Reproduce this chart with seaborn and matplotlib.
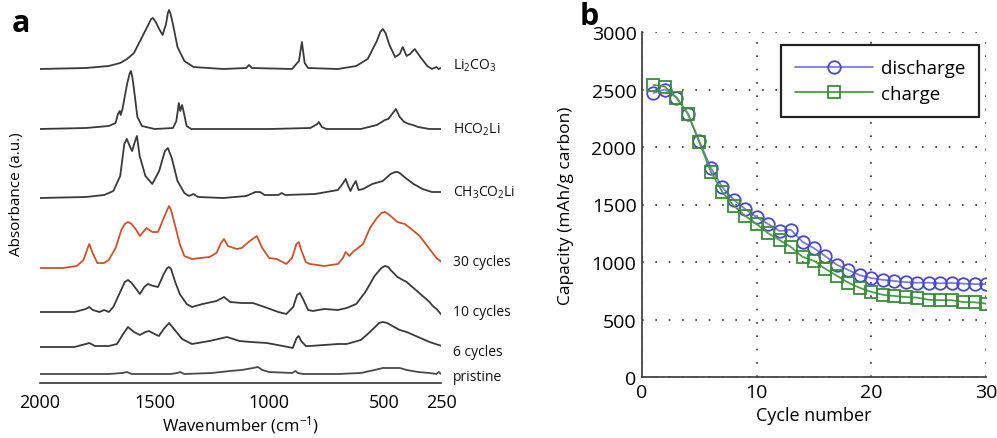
import numpy as np
import pandas as pd
import matplotlib
matplotlib.use('Agg')
import matplotlib.pyplot as plt
import matplotlib.transforms as mtransforms
import seaborn as sns

# ---- panel a: FTIR spectra (wavenumber, absorbance above each trace baseline, a.u.)
li2co3_w = [2000, 1800, 1700, 1650, 1620, 1590, 1570, 1550, 1530, 1515, 1507, 1495, 1480, 1465, 1450,
            1442, 1437, 1430, 1420, 1400, 1370, 1330, 1200, 1100, 1088, 1075, 900, 870, 857, 845,
            830, 700, 620, 570, 530, 515, 504, 492, 475, 450, 430, 417, 400, 385, 365, 340, 310,
            290, 270, 260, 250]
li2co3_a = [0, 1, 3, 6, 10, 16, 25, 34, 43, 50, 51, 47, 40, 34, 45,
            56, 59, 55, 45, 22, 8, 2, 0, 1, 4, 1, 0, 8, 27, 6,
            1, 0, 3, 10, 28, 37, 40, 36, 24, 12, 15, 22, 13, 15, 20, 12, 3,
            0, 2, 0, 1]

hco2li_w = [2000, 1800, 1700, 1670, 1660, 1652, 1648, 1640, 1620, 1608, 1603, 1597, 1590, 1575, 1555,
            1500, 1420, 1405, 1394, 1388, 1380, 1372, 1360, 1340, 1000, 820, 790, 783, 770, 750,
            600, 530, 495, 480, 460, 447, 430, 410, 390, 373, 350, 300, 250]
hco2li_a = [0, 1, 3, 6, 15, 18, 14, 20, 45, 56, 58, 52, 40, 12, 3,
            0, 1, 8, 26, 18, 24, 16, 3, 0, 0, 1, 5, 7, 2, 0,
            0, 4, 9, 10, 16, 20, 12, 7, 5, 4, 2, 0, 0]

ch3co2li_w = [2000, 1800, 1720, 1680, 1650, 1632, 1621, 1605, 1598, 1585, 1577, 1565, 1540, 1510, 1480,
              1455, 1442, 1425, 1400, 1370, 1350, 1330, 1310, 1200, 1100, 1060, 1040, 1020, 960, 945,
              930, 800, 700, 680, 666, 655, 645, 635, 622, 610, 590, 550, 520, 504, 470, 450, 438,
              425, 410, 370, 330, 290, 250]
ch3co2li_a = [-2, -1, 1, 5, 20, 52, 57, 48, 45, 55, 60, 40, 20, 12, 25,
              45, 48, 38, 15, 3, 0, 2, -1, -2, 0, 4, 4, 1, 1, 3,
              1, 2, 6, 12, 17, 10, 5, 10, 15, 6, 7, 12, 14, 15, 22, 24, 24,
              22, 19, 12, 7, 4, 4]

cyc30_w = [2000, 1900, 1840, 1810, 1795, 1785, 1770, 1750, 1720, 1700, 1670, 1645, 1630, 1616, 1600,
           1580, 1564, 1550, 1535, 1510, 1485, 1460, 1445, 1437, 1428, 1410, 1390, 1370, 1337, 1300,
           1260, 1230, 1210, 1197, 1180, 1141, 1120, 1090, 1054, 1030, 1000, 967, 925, 900, 881,
           871, 860, 840, 822, 790, 760, 700, 678, 666, 650, 630, 618, 590, 560, 530, 510, 495,
           480, 460, 440, 408, 380, 343, 300, 270, 247]
cyc30_a = [0, 0, 2, 8, 18, 24, 15, 5, 5, 8, 20, 38, 44, 46, 44,
           38, 32, 36, 40, 36, 36, 50, 58, 62, 58, 42, 24, 12, 9, 10,
           11, 15, 25, 29, 22, 19, 20, 26, 32, 20, 10, 9, 4, 10, 24,
           26, 18, 6, 4, 3, 2, 4, 10, 16, 12, 17, 19, 24, 40, 50, 55, 56,
           54, 50, 46, 44, 39, 32, 19, 10, 6]

cyc10_w = [2000, 1850, 1800, 1785, 1770, 1740, 1720, 1700, 1680, 1650, 1630, 1616, 1600, 1590, 1564,
           1545, 1529, 1505, 1485, 1460, 1445, 1437, 1428, 1410, 1390, 1360, 1337, 1290, 1230, 1197,
           1170, 1120, 1071, 1020, 960, 925, 895, 878, 866, 850, 830, 809, 760, 700, 662, 620,
           580, 540, 510, 495, 480, 470, 440, 400, 350, 300, 286, 275, 269, 262, 247]
cyc10_a = [0, 0, 3, 5, 2, 0, 2, 0, 5, 20, 30, 32, 29, 26, 18,
           25, 28, 26, 25, 38, 44, 45, 43, 30, 18, 8, 5, 8, 11, 15,
           10, 9, 9, 5, 0, -2, 5, 17, 19, 12, 2, 1, 3, 2, 4, 8,
           20, 36, 44, 46, 45, 42, 35, 30, 20, 10, 6, 4, 3, 1, -3]

cyc6_w = [2000, 1850, 1800, 1785, 1760, 1700, 1664, 1640, 1616, 1590, 1564, 1540, 1525, 1500, 1481,
          1460, 1437, 1415, 1380, 1337, 1260, 1184, 1130, 1080, 1010, 940, 897, 880, 871, 860, 840,
          822, 760, 700, 662, 600, 560, 520, 504, 485, 470, 430, 400, 350, 300, 247]
cyc6_a = [0, 0, 3, 4, 1, 1, 3, 12, 20, 15, 12, 15, 16, 13, 11,
          18, 24, 18, 8, 3, 6, 10, 6, 5, 4, 1, -1, 9, 11, 6, 1,
          1, 2, 3, 3, 7, 15, 24, 25, 24, 22, 17, 15, 10, 5, 1]

pristine_w = [2000, 1700, 1640, 1621, 1600, 1430, 1400, 1389, 1370, 1250, 1171, 1120, 1070, 1049, 1030,
              1000, 900, 885, 875, 850, 700, 600, 540, 504, 470, 430, 400, 350, 300, 270, 260, 250]
pristine_a = [0, 0, 1, 2, 0, 0, 1, 2, 0, 1, 3, 4, 6, 7, 4,
              2, 1, 3, 1, 0, 0, 1, 4, 6, 6, 6, 4, 2, 1, 0, 2, 0]

trace_names = ['Li$_2$CO$_3$', 'HCO$_2$Li', 'CH$_3$CO$_2$Li', '30 cycles', '10 cycles', '6 cycles', 'pristine']
trace_w = [li2co3_w, hco2li_w, ch3co2li_w, cyc30_w, cyc10_w, cyc6_w, pristine_w]
trace_a = [li2co3_a, hco2li_a, ch3co2li_a, cyc30_a, cyc10_a, cyc6_a, pristine_a]
trace_offset = [314, 254, 187, 115, 71, 36, 9]
trace_label_y = [318, 254, 191, 121, 71, 32, 6]
trace_color = ['#3a3a3a', '#3a3a3a', '#3a3a3a', '#c9532e', '#3a3a3a', '#3a3a3a', '#4a4a4a']
wn_ticks = [2000, 1500, 1000, 500, 250]

# ---- panel b: capacity vs cycle
cycles = list(range(1, 31))
discharge = [2470, 2500, 2430, 2290, 2050, 1820, 1650, 1540, 1460, 1390,
             1330, 1270, 1280, 1175, 1120, 1050, 975, 930, 885, 860,
             845, 835, 825, 820, 820, 815, 818, 812, 808, 808]
charge = [2540, 2525, 2430, 2290, 2040, 1785, 1610, 1490, 1400, 1330,
          1250, 1190, 1130, 1045, 1010, 940, 880, 820, 775, 740,
          715, 705, 695, 690, 672, 668, 668, 652, 650, 638]

sns.set_theme(style='white')
plt.rcParams['font.family'] = ['Open Sans', 'DejaVu Sans']
plt.rcParams['mathtext.fontset'] = 'custom'
plt.rcParams['mathtext.rm'] = 'Open Sans'
plt.rcParams['mathtext.it'] = 'Open Sans:italic'
plt.rcParams['text.color'] = 'black'
plt.rcParams['axes.labelcolor'] = 'black'
plt.rcParams['xtick.labelcolor'] = 'black'
plt.rcParams['ytick.labelcolor'] = 'black'

fig = plt.figure(figsize=(9.97, 4.39), dpi=100)

# ---------------- panel a
ax1 = fig.add_axes([40 / 997, 1 - 384 / 439, 401 / 997, 379 / 439])
for name, w, a, off, c in zip(trace_names, trace_w, trace_a, trace_offset, trace_color):
    df = pd.DataFrame({'wavenumber': w, 'absorbance': np.array(a) + off})
    sns.lineplot(data=df, x='wavenumber', y='absorbance', ax=ax1, color=c,
                 linewidth=1.3, estimator=None, sort=False)
ax1.set_xlim(2000, 250)
ax1.set_ylim(0, 379)
ax1.set_xticks(wn_ticks)
ax1.set_xticklabels([str(t) for t in wn_ticks], fontsize=13)
ax1.set_yticks([])
for s in ['left', 'top', 'right']:
    ax1.spines[s].set_visible(False)
ax1.spines['bottom'].set_color('#333333')
ax1.spines['bottom'].set_linewidth(1.2)
ax1.tick_params(axis='x', direction='in', length=5, width=1.2, color='#333333', pad=7)
ax1.set_xlabel('Wavenumber (cm$^{-1}$)', fontsize=12, labelpad=2)
ax1.set_ylabel('Absorbance (a.u.)', fontsize=11)
ax1.yaxis.set_label_coords(-0.04, 0.5)
trans = mtransforms.blended_transform_factory(ax1.transAxes, ax1.transData)
for name, ly in zip(trace_names, trace_label_y):
    ax1.text(1.03, ly, name, transform=trans, fontsize=10, va='center', ha='left', color='#111111')
fig.text(12 / 997, 1 - 24 / 439, 'a', fontsize=22, fontweight='bold', va='center', ha='left')

# ---------------- panel b
ax2 = fig.add_axes([642 / 997, 1 - 378 / 439, 344 / 997, 345 / 439])
sns.lineplot(x=cycles, y=discharge, ax=ax2, color='#7d7dd6', linewidth=1.3, marker='o',
             markersize=9, markerfacecolor='none', markeredgecolor='#4848c8', markeredgewidth=1.3,
             label='discharge')
sns.lineplot(x=cycles, y=charge, ax=ax2, color='#4f9a4f', linewidth=1.3, marker='s',
             markersize=8.5, markerfacecolor='none', markeredgecolor='#3d8a3d', markeredgewidth=1.3,
             label='charge')
ax2.set_xlim(0, 30)
ax2.set_ylim(0, 3000)
ax2.set_xticks([0, 10, 20, 30])
ax2.set_yticks([0, 500, 1000, 1500, 2000, 2500, 3000])
ax2.tick_params(labelsize=14, direction='in', length=4, width=1.2, color='#333333', pad=4)
ax2.grid(True, linestyle=(0, (1, 7)), color='#333333', linewidth=1.2)
for s in ['top', 'right']:
    ax2.spines[s].set_visible(False)
for s in ['left', 'bottom']:
    ax2.spines[s].set_color('#444444')
    ax2.spines[s].set_linewidth(1.3)
ax2.set_xlabel('Cycle number', fontsize=13, labelpad=4)
ax2.set_ylabel('Capacity (mAh/g carbon)', fontsize=12.5)
ax2.yaxis.set_label_coords(-0.198, 0.5)
leg = ax2.legend(loc='upper right', bbox_to_anchor=(0.98, 0.962), fontsize=13.5, frameon=True,
                 fancybox=False, framealpha=1, edgecolor='#222222', handlelength=4.15,
                 borderpad=0.75, labelspacing=0.4, handletextpad=0.4, borderaxespad=0)
leg.get_frame().set_linewidth(1.6)
fig.text(580 / 997, 1 - 17 / 439, 'b', fontsize=22, fontweight='bold', va='center', ha='left')

fig.savefig('out.png', dpi=100)
